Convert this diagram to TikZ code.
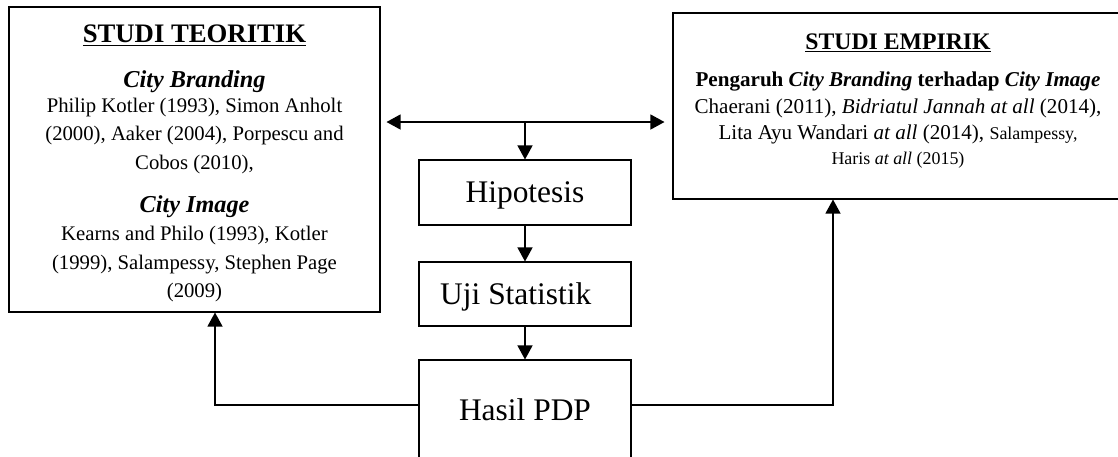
\documentclass[tikz,border=0pt]{standalone}
\usepackage{fontspec}
\setmainfont{Liberation Serif}
\usetikzlibrary{arrows.meta}

\begin{document}
\begin{tikzpicture}[
  x=0.2mm, y=-0.2mm,
  box/.style={draw, line width=0.6pt, align=center, inner sep=0pt},
  studi/.style={box, font=\fontsize{11.8}{16.2}\selectfont},
  tahap/.style={box, minimum width=4.24cm, text depth=0pt, font=\fontsize{17.9}{20}\selectfont},
  arr/.style={-{Triangle[length=0.28cm, width=0.3cm]}, line width=0.7pt},
  darr/.style={{Triangle[length=0.28cm, width=0.3cm]}-{Triangle[length=0.28cm, width=0.3cm]}, line width=0.7pt}
]
\useasboundingbox (0,0) rectangle (1118,456);

% kotak studi
\node[studi, minimum width=7.42cm, minimum height=6.1cm] (teori) at (194.5,159.5)
  {\rule{0pt}{14.5pt}{\fontsize{15.2}{18}\selectfont\bfseries\underline{STUDI TEORITIK}}\\[9.4pt]
   {\fontsize{13.8}{16}\selectfont\bfseries\itshape City Branding}\\[-2pt]
   Philip Kotler (1993), Simon Anholt\\
   (2000), Aaker (2004), Porpescu and\\
   Cobos (2010),\\[8.3pt]
   {\fontsize{13.8}{16}\selectfont\bfseries\itshape City Image}\\
   Kearns and Philo (1993), Kotler\\
   (1999), Salampessy, Stephen Page\\
   (2009)};
\node[studi, font=\fontsize{12}{15}\selectfont, minimum width=9.0cm, minimum height=3.72cm] (empiri) at (898,106)
  {{\fontsize{13.5}{16}\selectfont\bfseries\underline{STUDI EMPIRIK}}\\[6.6pt]
   \textbf{Pengaruh \textit{City Branding} terhadap \textit{City Image}}\\
   Chaerani (2011), \textit{Bidriatul Jannah at all} (2014),\\
   Lita Ayu Wandari \textit{at all} (2014), {\fontsize{10.2}{12}\selectfont Salampessy,}\\[-0.8pt]
   {\fontsize{10.2}{12}\selectfont Haris \textit{at all} (2015)}\rule[-8pt]{0pt}{8pt}};

% alur tengah
\node[tahap, minimum height=1.3cm] (hipo) at (525,192.5) {Hipotesis};
\node[tahap, minimum height=1.28cm] (uji) at (525,294) {Uji Statistik\hspace{10.5pt}};
\node[tahap, minimum height=1.98cm] (hasil) at (525,409.5) {Hasil PDP};

% panah
\coordinate (cabang) at (525,122);
\coordinate (kiri) at (215,405);
\coordinate (kanan) at (833,405);
\draw[darr] ([xshift=0.12cm]teori.east |- cabang) -- ([xshift=-0.16cm]empiri.west |- cabang);
\draw[arr] (cabang) -- (hipo);
\draw[arr] (hipo) -- (uji);
\draw[arr] (uji) -- (hasil);
\draw[arr] (hasil.west |- kiri) -- (kiri) -- (kiri |- teori.south);
\draw[arr] (hasil.east |- kanan) -- (kanan) -- (kanan |- empiri.south);
\end{tikzpicture}
\end{document}
